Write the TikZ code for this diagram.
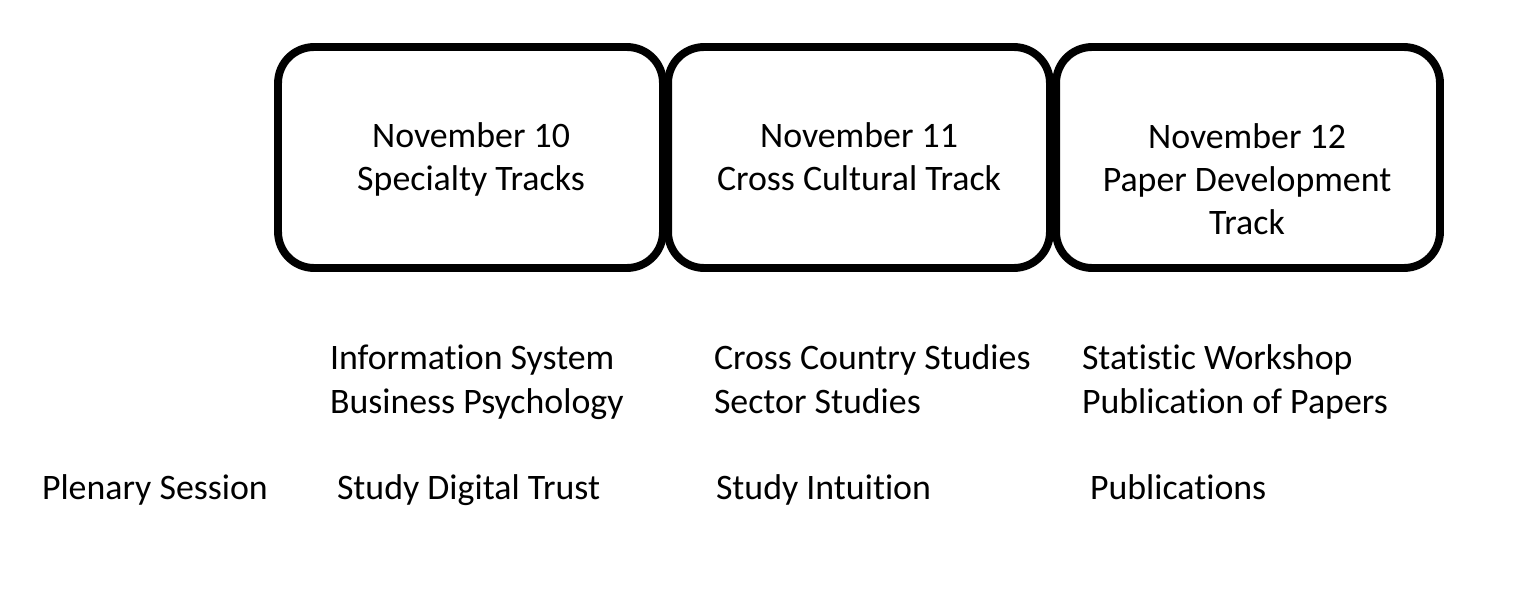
\documentclass[tikz,border=0pt]{standalone}
\usepackage{fontspec}
\setmainfont[Ligatures=NoCommon]{Carlito}
\begin{document}
\begin{tikzpicture}[x=0.02cm,y=-0.02cm,
  daybox/.style={draw=black,line width=4.5pt,rounded corners=0.72cm,minimum height=4.42cm,inner sep=0pt},
  txt/.style={font=\fontsize{20.4}{24.7}\selectfont,inner sep=0pt,outer sep=0pt},
  ctxt/.style={txt,align=center,anchor=base},
  ltxt/.style={txt,align=left,anchor=base west}]
\useasboundingbox (0,0) rectangle (1533,591);
\fill[white] (0,0) rectangle (1533,591);
% boxes
\node[daybox,minimum width=7.70cm] (b1) at (470.5,157.5) {};
\node[daybox,minimum width=7.64cm] (b2) at (859,157.5) {};
\node[daybox,minimum width=7.68cm] (b3) at (1248,157.5) {};
% box texts (base = baseline of the last line)
\node[ctxt] (t1) at (471,191) {November 10\\Specialty Tracks};
\node[ctxt] (t2) at (859,191) {November 11\\Cross Cultural Track};
\node[ctxt] (t3) at (1247,235) {November 12\\Paper Development\\Track};
% tracks
\node[ltxt] (s1) at (330,413) {Information System\\Business Psychology};
\node[ltxt] (s2) at (714,413) {Cross Country Studies\\Sector Studies};
\node[ltxt] (s3) at (1082,413) {Statistic Workshop\\Publication of Papers};
% plenary
\node[ltxt] (p0) at (42,499) {Plenary Session};
\node[ltxt] (p1) at (337,499) {Study Digital Trust};
\node[ltxt] (p2) at (716,499) {Study Intuition};
\node[ltxt] (p3) at (1090,499) {Publications};
\end{tikzpicture}
\end{document}
